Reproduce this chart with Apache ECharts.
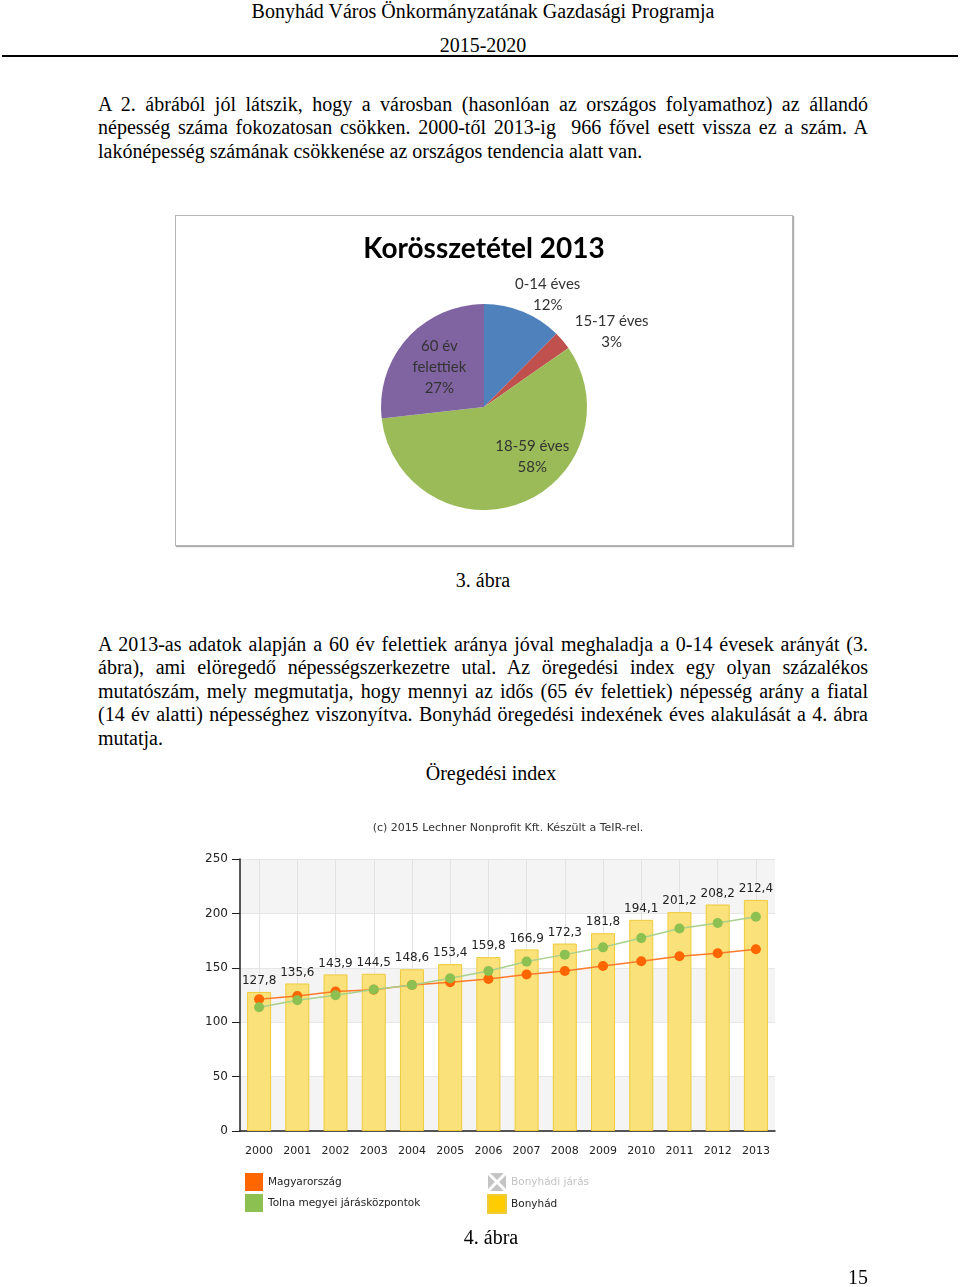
<!DOCTYPE html>
<html><head><meta charset="utf-8">
<script src="https://cdn.jsdelivr.net/npm/echarts@6/dist/echarts.min.js"></script>
<style>
html,body{margin:0;padding:0;background:#fff;}
body{width:960px;height:1287px;position:relative;overflow:hidden;font-family:"Liberation Serif","Times New Roman",serif;font-size:20px;color:#000;}
.t{position:absolute;line-height:23.5px;white-space:nowrap;}
.c{left:483px;transform:translateX(-50%);}
.j{left:98px;width:770px;text-align:justify;text-align-last:justify;}
.l{left:98px;}
#box{position:absolute;left:175px;top:215px;width:616px;height:329px;border:1px solid #b5b5b5;box-shadow:1px 1px 1px #aaa;}
#chart{position:absolute;left:0;top:0;width:960px;height:1287px;}
#rule{position:absolute;left:2px;width:956px;top:55px;height:2px;background:#000;}
</style></head>
<body>
<div class="t c" style="top:-0.5px">Bonyhád Város Önkormányzatának Gazdasági Programja</div>
<div class="t c" style="top:33.5px">2015-2020</div>
<div id="rule"></div>
<div class="t j" style="top:92.5px">A 2. ábrából jól látszik, hogy a városban (hasonlóan az országos folyamathoz) az állandó</div>
<div class="t j" style="top:116px">népesség száma fokozatosan csökken. 2000-től 2013-ig&nbsp; 966 fővel esett vissza ez a szám. A</div>
<div class="t l" style="top:139.5px">lakónépesség számának csökkenése az országos tendencia alatt van.</div>
<div id="box"></div>
<div class="t c" style="top:568.5px">3. ábra</div>
<div class="t j" style="top:632.5px">A 2013-as adatok alapján a 60 év felettiek aránya jóval meghaladja a 0-14 évesek arányát (3.</div>
<div class="t j" style="top:656px">ábra), ami elöregedő népességszerkezetre utal. Az öregedési index egy olyan százalékos</div>
<div class="t j" style="top:679.5px">mutatószám, mely megmutatja, hogy mennyi az idős (65 év felettiek) népesség arány a fiatal</div>
<div class="t j" style="top:703px">(14 év alatti) népességhez viszonyítva. Bonyhád öregedési indexének éves alakulását a 4. ábra</div>
<div class="t l" style="top:726.5px">mutatja.</div>
<div class="t c" style="top:761.5px;left:491px">Öregedési index</div>
<div id="chart"></div>
<div class="t c" style="top:1225.5px;left:491px">4. ábra</div>
<div class="t" style="top:1265.5px;right:92px">15</div>
<script>
// ---- data ----
const ageGroups = ['0-14 éves', '15-17 éves', '18-59 éves', '60 év\nfelettiek'];
const ageShares = [12.4, 2.9, 57.9, 26.8];
const ageColors = ['#4f81bd', '#c0504d', '#9bbb59', '#8064a2'];

const years = ['2000','2001','2002','2003','2004','2005','2006','2007','2008','2009','2010','2011','2012','2013'];
const bonyhad = [127.8, 135.6, 143.9, 144.5, 148.6, 153.4, 159.8, 166.9, 172.3, 181.8, 194.1, 201.2, 208.2, 212.4];
const magyarorszag = [121.1, 124.1, 128.2, 129.8, 134.2, 136.7, 139.7, 143.8, 147.0, 151.7, 156.0, 160.6, 163.3, 167.0];
const tolna = [113.8, 120.2, 124.8, 130.0, 134.2, 140.4, 147.0, 155.7, 162.1, 168.8, 177.3, 186.2, 191.1, 197.0];
const bonyhadiJaras = [];
const yTicks = [0, 50, 100, 150, 200, 250];

// label offsets for pie (layout, not data)
const pieLabelOffsets = [[43, -62], [86, -40], [29, -1], [-4, -4]];

const chart = echarts.init(document.getElementById('chart'), null, {renderer: 'canvas'});
const sans = 'DejaVu Sans';
const xIcon = 'path://M2.1 0L15.9 0L9 6.9Z M18 2.1L18 15.9L11.1 9Z M15.9 18L2.1 18L9 11.1Z M0 15.9L0 2.1L6.9 9Z';

chart.setOption({
  animation: false,
  backgroundColor: 'transparent',
  graphic: [
    {type: 'text', x: 484, y: 249, style: {text: 'Korösszetétel 2013', align: 'center', verticalAlign: 'middle',
      font: 'bold 28px Lato, "Open Sans", sans-serif', fill: '#000'}},
    {type: 'text', x: 508, y: 828, style: {text: '(c) 2015 Lechner Nonprofit Kft. Készült a TeIR-rel.', align: 'center', verticalAlign: 'middle',
      font: '11px "DejaVu Sans", sans-serif', fill: '#333'}}
  ],
  legend: [
    {left: 245, top: 1173, padding: 0, orient: 'vertical', itemWidth: 18, itemHeight: 18, itemGap: 3, icon: 'rect',
      selectedMode: false,
      textStyle: {fontFamily: sans, fontSize: 10.5, color: '#222'},
      data: ['Magyarország', 'Tolna megyei járásközpontok']},
    {left: 487, top: 1173, padding: 0, orient: 'vertical', itemWidth: 18, itemHeight: 18, itemGap: 3, icon: 'rect',
      inactiveColor: '#c4c4c4',
      textStyle: {fontFamily: sans, fontSize: 10.5, color: '#222'},
      selected: {'Bonyhádi járás': false},
      data: [{name: 'Bonyhádi járás', icon: xIcon}, {name: 'Bonyhád', itemStyle: {color: '#ffcc00'}}]}
  ],
  grid: {left: 240, top: 859, width: 535, height: 272},
  xAxis: {
    type: 'category', data: years, boundaryGap: true,
    axisLine: {lineStyle: {color: '#222', width: 1.5}},
    axisTick: {alignWithLabel: true, length: 5, lineStyle: {color: '#222'}},
    axisLabel: {fontFamily: sans, fontSize: 11, color: '#222', margin: 15},
    splitLine: {show: true, alignWithLabel: true, lineStyle: {color: '#e3e3e3'}}
  },
  yAxis: {
    type: 'value', min: yTicks[0], max: yTicks[yTicks.length - 1], interval: yTicks[1] - yTicks[0],
    axisLine: {show: true, lineStyle: {color: '#222', width: 1.5}},
    axisTick: {show: true, length: 8, lineStyle: {color: '#222'}},
    axisLabel: {fontFamily: sans, fontSize: 12, color: '#222', margin: 12},
    splitLine: {show: true, lineStyle: {color: '#e6e6e6'}},
    splitArea: {show: true, areaStyle: {color: ['#f4f4f4', '#ffffff']}}
  },
  series: [
    {
      type: 'pie', name: 'Korösszetétel 2013', center: [484, 407], radius: 103, startAngle: 90, clockwise: true,
      silent: true,
      data: ageGroups.map((n, i) => ({name: n, value: ageShares[i], itemStyle: {color: ageColors[i]}})),
      label: {position: 'inside', fontFamily: 'Lato, "Open Sans", sans-serif', fontSize: 15, lineHeight: 21, color: '#333',
        formatter: p => p.name + '\n' + Math.round(p.percent) + '%'},
      labelLine: {show: false},
      labelLayout: p => ({dx: pieLabelOffsets[p.dataIndex][0], dy: pieLabelOffsets[p.dataIndex][1]})
    },
    {
      type: 'bar', name: 'Bonyhád', data: bonyhad, barWidth: 24,
      itemStyle: {color: '#fae17a', borderColor: '#eecb3c', borderWidth: 1},
      label: {show: true, position: 'top', distance: 5, fontFamily: sans, fontSize: 12, color: '#222',
        formatter: p => String(p.value).replace('.', ',')}
    },
    {type: 'line', name: 'Bonyhádi járás', data: bonyhadiJaras, itemStyle: {color: '#c4c4c4'}},
    {
      type: 'line', name: 'Magyarország', data: magyarorszag, symbol: 'circle', symbolSize: 10,
      itemStyle: {color: '#ff6600'}, lineStyle: {color: '#ff7a2a', width: 1.5}, z: 3
    },
    {
      type: 'line', name: 'Tolna megyei járásközpontok', data: tolna, symbol: 'circle', symbolSize: 10,
      itemStyle: {color: '#8cc152'}, lineStyle: {color: '#a9d08c', width: 1.5}, z: 4
    }
  ]
});
</script>
</body></html>
